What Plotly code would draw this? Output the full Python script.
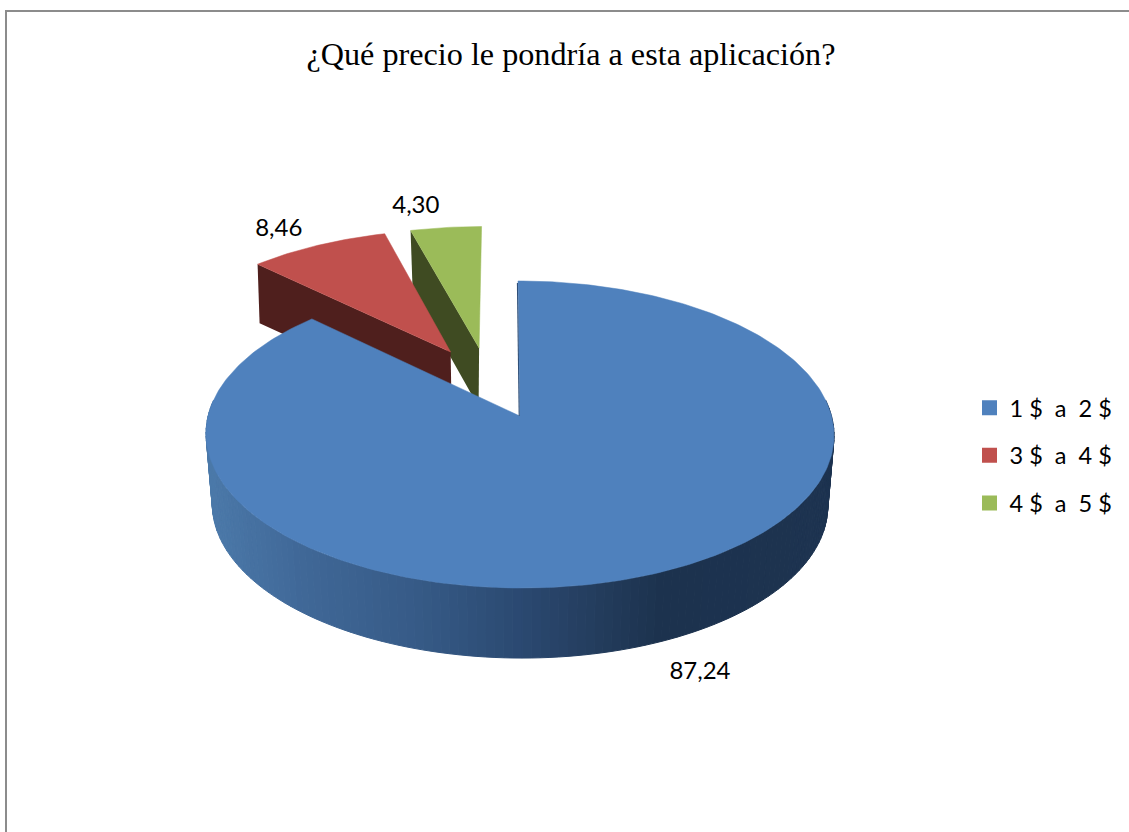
import math
import plotly.graph_objects as go

# ---- data ----
title = "¿Qué precio le pondría a esta aplicación?"
categories = ["1\u00a0$\u00a0\u00a0a\u00a0\u00a02\u00a0$", "3\u00a0$\u00a0\u00a0a\u00a0\u00a04\u00a0$", "4\u00a0$\u00a0\u00a0a\u00a0\u00a05\u00a0$"]
values = [87.24, 8.46, 4.30]

# ---- styles ----
top_colors = ["#4f81bd", "#c0504d", "#9bbb59"]
wall_colors = [None, "#4f1f1d", "#3f4b22"]
# slice explosion, in disc units (sideways, backwards)
explode = [(0.0, 0.0), (-0.231, 0.4456), (-0.135, 0.475)]
label_shift = [(44, 30), (-39, -15), (-30, -21)]
wall_depth = 59

# side shading: screen x -> colour
side_stops = [(205, (76, 122, 170)), (300, (64, 104, 152)), (420, (54, 90, 134)),
              (520, (43, 73, 113)), (600, (35, 60, 92)), (660, (28, 50, 78)), (835, (29, 51, 80))]

# perspective projection of the disc plane onto the page
X0, Y0 = 519.8, 416.0
CX, AY, B, SKEW = 311.7, 151.3, 0.1205, -2.0
CX2, AY2, DY2 = 305.5, 150.8, 70.6


def top_pt(u, v):
    d = 1 + B * v
    return X0 + (CX * u + SKEW * v) / d, Y0 - AY * v / d


def bottom_pt(u, v):
    d = 1 + B * v
    return X0 + (CX2 * u + SKEW * v) / d, Y0 + DY2 - AY2 * v / d


def uv(deg):
    r = math.radians(deg)
    return math.sin(r), math.cos(r)


def side_color(x):
    for (x1, c1), (x2, c2) in zip(side_stops, side_stops[1:]):
        if x <= x2:
            t = max(0.0, (x - x1) / (x2 - x1))
            return "rgb(%d,%d,%d)" % tuple(round(a + (b - a) * t) for a, b in zip(c1, c2))
    return "rgb(%d,%d,%d)" % side_stops[-1][1]


fig = go.Figure()


def poly(xs, ys, color, line=0.0):
    fig.add_trace(go.Scatter(
        x=xs, y=ys, mode="lines", fill="toself", fillcolor=color,
        line=dict(color=color, width=line), hoverinfo="skip", showlegend=False))


# slice angle ranges, clockwise from the top
bounds = []
a = 0.0
for val in values:
    bounds.append((a, a + val * 3.6))
    a += val * 3.6


def arc(i):
    s, e = bounds[i]
    n = max(8, int(e - s))
    ox, oy = explode[i]
    return [(uv(s + (e - s) * k / n)[0] + ox, uv(s + (e - s) * k / n)[1] + oy) for k in range(n + 1)]


# exploded slices: walls first, then tops; green is behind red
for i in (2, 1):
    ox, oy = explode[i]
    pts = arc(i)
    rim = pts[0]
    ax_, ay_ = top_pt(ox, oy)
    rx_, ry_ = top_pt(*rim)
    poly([rx_, ax_, ax_ - 0.5 if i == 2 else ax_ + 1, rx_ + 2, rx_],
         [ry_, ay_, ay_ + wall_depth, ry_ + wall_depth, ry_], wall_colors[i])
    tp = [top_pt(ox, oy)] + [top_pt(*p) for p in pts] + [top_pt(ox, oy)]
    poly([p[0] for p in tp], [p[1] for p in tp], top_colors[i], 0.5)

# blue slice: shaded side as narrow strips along the front rim
step = 1.5
deg = 84.0
while deg < 276.0:
    u1, v1 = uv(deg)
    u2, v2 = uv(deg + step)
    p = [top_pt(u1, v1), top_pt(u2, v2), bottom_pt(u2, v2), bottom_pt(u1, v1), top_pt(u1, v1)]
    col = side_color(sum(q[0] for q in p[:4]) / 4)
    poly([q[0] for q in p], [q[1] for q in p], col, 1.0)
    deg += step

# blue top face
pts0 = arc(0)
tp = [top_pt(0, 0)] + [top_pt(*p) for p in pts0] + [top_pt(0, 0)]
poly([p[0] for p in tp], [p[1] for p in tp], top_colors[0], 0.5)

# sliver of the blue wall seen along the 12 o'clock edge
ra = top_pt(*uv(0))
ap = top_pt(0, 0)
fig.add_trace(go.Scatter(x=[ra[0] - 0.6, ap[0] - 0.6], y=[ra[1] + 2, ap[1]], mode="lines",
                         line=dict(color="#2f4f78", width=1.1), hoverinfo="skip", showlegend=False))

# data labels, anchored on each slice's mid rim
lx, ly, lt = [], [], []
for i, val in enumerate(values):
    s, e = bounds[i]
    u, v = uv((s + e) / 2)
    ox, oy = explode[i]
    px, py = (bottom_pt(u, v) if i == 0 else top_pt(u + ox, v + oy))
    lx.append(px + label_shift[i][0])
    ly.append(py + label_shift[i][1])
    lt.append(f"{val:.2f}".replace(".", ","))
fig.add_trace(go.Scatter(x=lx, y=ly, text=lt, mode="text", hoverinfo="skip", showlegend=False,
                         textfont=dict(family="Lato", size=24, color="#000000")))

# legend entries
for i, name in enumerate(categories):
    fig.add_trace(go.Scatter(x=[None], y=[None], mode="markers", name=name, legendgroup=name,
                             marker=dict(symbol="square", size=15, color=top_colors[i])))

fig.update_layout(
    width=1129, height=832, margin=dict(l=0, r=0, t=0, b=0),
    paper_bgcolor="#ffffff", plot_bgcolor="#ffffff",
    xaxis=dict(range=[0, 1129], visible=False, fixedrange=True),
    yaxis=dict(range=[832, 0], visible=False, fixedrange=True),
    title=dict(text=title, x=571 / 1129, xanchor="center", y=1 - 54 / 832, yanchor="middle",
               font=dict(family="Liberation Serif", size=32.2, color="#000000")),
    legend=dict(x=969.5 / 1129, xanchor="left", y=1 - 386 / 832, yanchor="top",
                font=dict(family="Lato", size=23.5, color="#000000"),
                tracegroupgap=14, bgcolor="rgba(0,0,0,0)", itemclick=False, itemdoubleclick=False),
    shapes=[
        dict(type="line", xref="x", yref="y", x0=6, x1=1129, y0=11, y1=11, line=dict(color="#8c8c8c", width=2)),
        dict(type="line", xref="x", yref="y", x0=6, x1=6, y0=10, y1=832, line=dict(color="#8c8c8c", width=2)),
    ],
)

fig.write_html("out.html", config={"displayModeBar": False},
               post_script="document.body.style.margin='0';document.body.style.overflow='hidden';")
